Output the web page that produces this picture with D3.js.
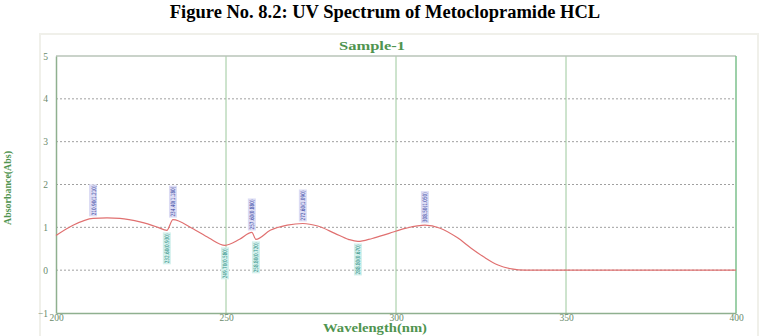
<!DOCTYPE html>
<html>
<head>
<meta charset="utf-8">
<script src="https://cdn.jsdelivr.net/npm/d3@7"></script>
<style>
  body { margin: 0; background: #fff; }
  svg { display: block; }
</style>
</head>
<body>
<script>
// spectrum
const wavelengths = [200, 205, 210.9, 215, 218.8, 225, 230, 232.6, 234.4, 240, 245, 249.7, 254, 257.6, 258.8, 263, 268, 272.6, 277, 282, 286, 288.8, 293, 298, 303, 308.5, 313, 318, 322, 326, 330, 334, 338, 345, 360, 380, 400];
const absorbance  = [0.81, 1.05, 1.21, 1.22, 1.21, 1.12, 1.0, 0.93, 1.18, 0.98, 0.75, 0.58, 0.72, 0.88, 0.72, 0.93, 1.05, 1.09, 1.03, 0.86, 0.72, 0.67, 0.74, 0.86, 0.98, 1.05, 0.98, 0.76, 0.52, 0.3, 0.12, 0.03, 0.0, 0.0, 0.0, 0.0, 0.0];

const peakNm  = [210.9, 234.4, 257.6, 272.6, 308.5];
const peakAbs = [1.21, 1.18, 0.88, 1.09, 1.05];
const valleyNm  = [232.6, 249.7, 258.8, 288.8];
const valleyAbs = [0.93, 0.58, 0.72, 0.67];

const xTicks = [200, 250, 300, 350, 400];
const yTicks = [-1, 0, 1, 2, 3, 4, 5];

const W = 770, H = 336;
const margin = { top: 56, right: 34, bottom: 23, left: 56 };

const svg = d3.select("body").append("svg")
  .attr("width", W)
  .attr("height", H);

// faint frame of the scanned picture
svg.append("rect")
  .attr("x", 40).attr("y", 34).attr("width", 718).attr("height", 304)
  .attr("fill", "none").attr("stroke", "#f0f0ea").attr("stroke-width", 2);

svg.append("text")
  .attr("x", W / 2).attr("y", 18)
  .attr("text-anchor", "middle")
  .attr("font-family", "Liberation Serif, Times New Roman, serif")
  .attr("font-weight", "bold")
  .attr("font-size", 18.5)
  .attr("fill", "#000")
  .text("Figure No. 8.2: UV Spectrum of Metoclopramide HCL");

const x = d3.scaleLinear().domain([200, 400]).range([margin.left, W - margin.right]);
const y = d3.scaleLinear().domain([-1, 5]).range([H - margin.bottom, margin.top]);

const green = "#4f944f";
const tickFont = "Liberation Serif, serif";

// horizontal dotted grid
svg.append("g")
  .selectAll("line")
  .data(yTicks.filter(d => d > -1 && d < 5))
  .join("line")
  .attr("x1", x(200)).attr("x2", x(400))
  .attr("y1", d => y(d)).attr("y2", d => y(d))
  .attr("stroke", "#a0a0a0")
  .attr("stroke-width", 1)
  .attr("stroke-dasharray", "2,2");

// vertical grid
svg.append("g")
  .selectAll("line")
  .data(xTicks.filter(d => d > 200 && d < 400))
  .join("line")
  .attr("x1", d => x(d)).attr("x2", d => x(d))
  .attr("y1", y(5)).attr("y2", y(-1))
  .attr("stroke", "#9cc89c")
  .attr("stroke-width", 1);

// frame
svg.append("line")
  .attr("x1", x(200)).attr("x2", x(400)).attr("y1", y(5)).attr("y2", y(5))
  .attr("stroke", "#b8c4b8").attr("stroke-width", 1.5);
svg.append("line")
  .attr("x1", x(400)).attr("x2", x(400)).attr("y1", y(5)).attr("y2", y(-1))
  .attr("stroke", "#7cc08c").attr("stroke-width", 1.5);

const xAxis = svg.append("g")
  .attr("transform", `translate(0,${y(-1)})`)
  .call(d3.axisBottom(x).tickValues(xTicks).tickSize(0).tickPadding(1));
const yAxis = svg.append("g")
  .attr("transform", `translate(${x(200)},0)`)
  .call(d3.axisLeft(y).tickValues(yTicks).tickFormat(d3.format("d")).tickSize(0).tickPadding(8));

[xAxis, yAxis].forEach(g => {
  g.select(".domain").attr("stroke", "#8fb08f").attr("stroke-width", 1.5);
  g.selectAll("text")
    .attr("font-family", tickFont)
    .attr("font-size", 9.5)
    .attr("fill", "#6a8a6a");
});

svg.append("text")
  .attr("x", 375).attr("y", 332)
  .attr("text-anchor", "middle")
  .attr("font-family", tickFont)
  .attr("font-weight", "bold")
  .attr("font-size", 11.5)
  .attr("textLength", 104)
  .attr("lengthAdjust", "spacingAndGlyphs")
  .attr("fill", green)
  .text("Wavelength(nm)");

svg.append("text")
  .attr("transform", `translate(11,188) rotate(-90)`)
  .attr("text-anchor", "middle")
  .attr("font-family", tickFont)
  .attr("font-weight", "bold")
  .attr("font-size", 11)
  .attr("textLength", 74)
  .attr("lengthAdjust", "spacingAndGlyphs")
  .attr("fill", green)
  .text("Absorbance(Abs)");

svg.append("text")
  .attr("x", 372).attr("y", 50)
  .attr("text-anchor", "middle")
  .attr("font-family", tickFont)
  .attr("font-weight", "bold")
  .attr("font-size", 12)
  .attr("textLength", 66)
  .attr("lengthAdjust", "spacingAndGlyphs")
  .attr("fill", green)
  .text("Sample-1");

// spectrum
const line = d3.line()
  .x(d => x(d[0]))
  .y(d => y(d[1]))
  .curve(d3.curveMonotoneX);

svg.append("path")
  .datum(wavelengths.map((w, i) => [w, absorbance[i]]))
  .attr("d", line)
  .attr("fill", "none")
  .attr("stroke", "#e07070")
  .attr("stroke-width", 1.2);

// peak / valley labels
function addLabels(nm, abs, up, bg, fg) {
  const g = svg.append("g");
  nm.forEach((w, i) => {
    const txt = w.toFixed(2) + "(" + abs[i].toFixed(3) + ")";
    const len = 32, wd = 8;
    const px = x(w), py = y(abs[i]);
    const y0 = up ? py - 2 - len : py + 2;
    g.append("rect")
      .attr("x", px - wd / 2).attr("y", y0)
      .attr("width", wd).attr("height", len)
      .attr("fill", bg);
    g.append("text")
      .attr("transform", `translate(${px + 2.5},${y0 + len / 2}) rotate(-90)`)
      .attr("text-anchor", "middle")
      .attr("font-family", "DejaVu Sans Condensed, DejaVu Sans, sans-serif")
      .attr("font-size", 6)
      .attr("textLength", len - 2)
      .attr("lengthAdjust", "spacingAndGlyphs")
      .attr("fill", fg)
      .text(txt);
  });
}
addLabels(peakNm, peakAbs, true, "#dcdcf4", "#3040a0");
addLabels(valleyNm, valleyAbs, false, "#d4f0ec", "#208a80");
</script>
</body>
</html>
